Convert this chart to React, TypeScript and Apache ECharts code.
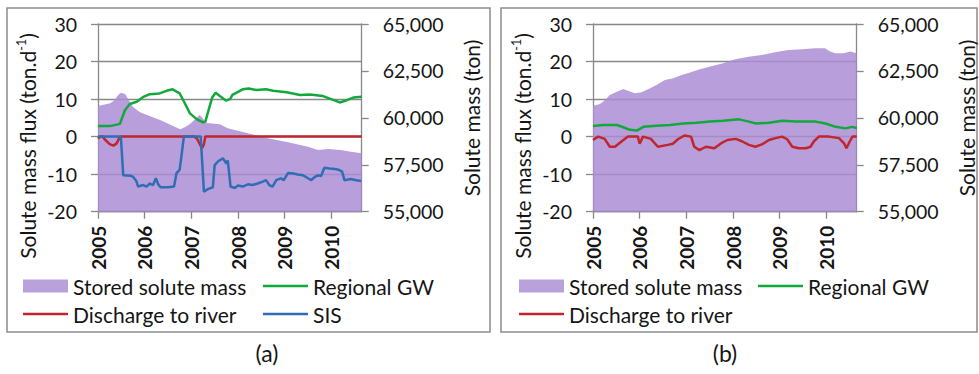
import React, { useEffect, useRef } from "react";
import * as echarts from "echarts";

// ---------- data ----------
const xTickYears = [2005, 2006, 2007, 2008, 2009, 2010];
const xStart = 2005;
const xEnd = 2010.65;
const fluxRange = [-20, 30, 10]; // min, max, interval (ton/d)
const massRange = [55000, 65000, 2500]; // min, max, interval (ton)

const seriesNames = ["Stored solute mass", "Regional GW", "Discharge to river", "SIS"];

// Panel (a)
const aStored: [number, number][] = [
  [2005.0, 60630], [2005.26, 60780], [2005.36, 60950], [2005.43, 61220], [2005.49, 61340],
  [2005.58, 61270], [2005.62, 61110], [2005.75, 60580], [2005.9, 60300], [2006.05, 60150],
  [2006.33, 59890], [2006.61, 59570], [2006.76, 59390], [2006.86, 59500], [2006.97, 59670],
  [2007.18, 60150], [2007.27, 59900], [2007.33, 59730], [2007.61, 59660], [2007.78, 59440],
  [2008.21, 59180], [2008.64, 58910], [2009.07, 58700], [2009.5, 58460], [2009.71, 58290],
  [2009.93, 58340], [2010.2, 58290], [2010.42, 58200], [2010.65, 58110],
];
const aRegional: [number, number][] = [
  [2005.0, 2.8], [2005.26, 2.8], [2005.47, 3.4], [2005.58, 7.1], [2005.68, 8.7],
  [2005.83, 9.3], [2005.96, 10.5], [2006.11, 11.3], [2006.32, 11.5], [2006.47, 12.2],
  [2006.6, 12.6], [2006.75, 11.5], [2006.86, 8.9], [2006.97, 6.2], [2007.12, 4.6],
  [2007.25, 3.8], [2007.3, 4.0], [2007.38, 7.5], [2007.45, 10.5], [2007.52, 11.7],
  [2007.61, 10.8], [2007.74, 9.6], [2007.83, 10.0], [2007.88, 11.1], [2008.1, 12.6],
  [2008.23, 12.8], [2008.4, 12.4], [2008.6, 12.6], [2008.75, 12.2], [2009.04, 11.8],
  [2009.33, 11.1], [2009.54, 11.2], [2009.82, 10.8], [2010.04, 9.8], [2010.18, 9.1],
  [2010.33, 9.7], [2010.47, 10.4], [2010.65, 10.6],
];
const aDischarge: [number, number][] = [
  [2005.0, -0.5], [2005.05, 0], [2005.1, 0], [2005.15, -0.8], [2005.25, -2.0],
  [2005.33, -2.4], [2005.4, -1.8], [2005.47, 0], [2007.06, 0], [2007.12, -0.5],
  [2007.2, -2.5], [2007.23, -3.0], [2007.27, -2.0], [2007.3, 0], [2010.65, 0],
];
const aSIS: [number, number][] = [
  [2005.0, 0], [2005.49, 0], [2005.54, -10.3], [2005.7, -10.4], [2005.75, -10.7],
  [2005.82, -11.8], [2005.86, -13.3], [2005.97, -12.9], [2006.04, -13.3], [2006.11, -12.5],
  [2006.18, -12.9], [2006.24, -11.1], [2006.29, -12.7], [2006.34, -13.5], [2006.5, -13.5],
  [2006.63, -13.3], [2006.68, -9.8], [2006.75, -8.8], [2006.8, -4.0], [2006.84, 0],
  [2007.2, 0], [2007.27, -14.7], [2007.35, -14.0], [2007.46, -13.5], [2007.5, -7.6],
  [2007.58, -6.5], [2007.68, -5.8], [2007.75, -7.2], [2007.78, -6.3], [2007.84, -13.3],
  [2007.93, -13.7], [2008.0, -13.0], [2008.1, -13.3], [2008.21, -12.7], [2008.31, -12.9],
  [2008.42, -12.5], [2008.53, -12.0], [2008.6, -11.6], [2008.67, -12.9], [2008.74, -13.3],
  [2008.82, -11.6], [2008.92, -11.1], [2008.98, -11.6], [2009.07, -9.7], [2009.18, -9.8],
  [2009.28, -10.1], [2009.39, -10.3], [2009.5, -11.1], [2009.57, -11.6], [2009.65, -10.7],
  [2009.71, -10.3], [2009.78, -10.5], [2009.85, -8.3], [2009.96, -8.5], [2010.07, -8.6],
  [2010.17, -8.9], [2010.23, -9.3], [2010.28, -11.6], [2010.42, -11.3], [2010.53, -11.6],
  [2010.64, -11.8],
];

// Panel (b)
const bStored: [number, number][] = [
  [2005.0, 60630], [2005.15, 60740], [2005.26, 60950], [2005.36, 61220], [2005.51, 61390],
  [2005.65, 61540], [2005.76, 61430], [2005.9, 61310], [2006.04, 61360], [2006.18, 61520],
  [2006.36, 61750], [2006.54, 62020], [2006.72, 62110], [2006.9, 62280], [2007.08, 62410],
  [2007.29, 62590], [2007.51, 62730], [2007.79, 62910], [2008.05, 63120], [2008.33, 63260],
  [2008.62, 63350], [2008.9, 63490], [2009.19, 63620], [2009.48, 63650], [2009.76, 63710],
  [2009.97, 63710], [2010.08, 63530], [2010.19, 63440], [2010.37, 63440], [2010.51, 63530],
  [2010.65, 63440],
];
const bRegional: [number, number][] = [
  [2005.0, 2.8], [2005.22, 3.1], [2005.51, 3.1], [2005.65, 2.5], [2005.79, 1.8],
  [2005.94, 1.6], [2006.08, 2.6], [2006.36, 2.9], [2006.65, 3.1], [2006.93, 3.5],
  [2007.22, 3.7], [2007.51, 4.0], [2007.79, 4.2], [2008.13, 4.6], [2008.34, 4.0],
  [2008.49, 3.5], [2008.77, 3.7], [2009.06, 4.2], [2009.34, 4.0], [2009.77, 4.0],
  [2009.98, 3.5], [2010.2, 2.6], [2010.41, 2.2], [2010.55, 2.6], [2010.65, 2.3],
];
const bDischarge: [number, number][] = [
  [2005.0, -0.9], [2005.11, 0], [2005.25, -0.6], [2005.36, -2.7], [2005.47, -2.7],
  [2005.61, -1.3], [2005.75, 0], [2005.96, 0], [2006.0, -1.9], [2006.07, 0],
  [2006.24, -0.6], [2006.39, -2.7], [2006.6, -2.2], [2006.71, -1.9], [2006.82, -0.7],
  [2006.96, 0.3], [2007.1, 0], [2007.17, -2.7], [2007.28, -3.6], [2007.42, -2.7],
  [2007.6, -3.1], [2007.74, -1.8], [2007.88, -0.9], [2008.06, -0.6], [2008.2, -1.3],
  [2008.34, -2.2], [2008.48, -2.7], [2008.63, -2.0], [2008.77, -0.9], [2008.91, -0.4],
  [2009.05, 0], [2009.16, -0.7], [2009.27, -2.7], [2009.41, -3.1], [2009.56, -3.1],
  [2009.66, -2.7], [2009.73, -1.3], [2009.84, 0], [2010.06, 0], [2010.27, -0.4],
  [2010.38, -1.8], [2010.43, -3.1], [2010.5, -1.3], [2010.56, 0], [2010.65, 0],
];

// ---------- styles ----------
const FONT = 'Lato, "Open Sans", "DejaVu Sans", sans-serif';
const GRAY = "#888888";
const TEXT = "#151515";
const PURPLE_AREA = "rgba(170,140,212,0.84)";
const PURPLE_SOLID = "#b9a1dc";
const GREEN = "#13a83b";
const RED = "#c0262c";
const BLUE = "#2f6db5";

const PLOT_W = 263.7;
const PLOT_H = 187.7;
const PLOT_TOP = 24;
const PANELS = [
  { left: 98, label: "(a)", labelX: 267, border: [7, 8, 483, 324] },
  { left: 593, label: "(b)", labelX: 725, border: [501, 8, 476, 324] },
];

function xAxisCfg(gridIndex: number) {
  return {
    type: "value",
    gridIndex,
    min: xStart,
    max: xEnd,
    interval: 1,
    axisLine: { show: true, onZero: false, lineStyle: { color: GRAY, width: 1.3 } },
    axisTick: { show: true, length: 7, lineStyle: { color: GRAY, width: 1.3 }, customValues: xTickYears },
    axisLabel: {
      rotate: 90,
      margin: 14,
      fontSize: 19,
      fontWeight: "bold",
      color: TEXT,
      fontFamily: FONT,
      customValues: xTickYears,
      formatter: (v: number) => String(Math.round(v)),
    },
    splitLine: { show: false },
  };
}

function fluxAxisCfg(gridIndex: number) {
  return {
    type: "value",
    gridIndex,
    position: "left",
    min: fluxRange[0],
    max: fluxRange[1],
    interval: fluxRange[2],
    axisLine: { show: true, onZero: false, lineStyle: { color: GRAY, width: 1.3 } },
    axisTick: { show: true, length: 7, lineStyle: { color: GRAY, width: 1.3 } },
    axisLabel: { margin: 21, fontSize: 19.5, color: TEXT, fontFamily: FONT },
    splitLine: { show: true, lineStyle: { color: GRAY, width: 1.3 } },
  };
}

function massAxisCfg(gridIndex: number) {
  return {
    type: "value",
    gridIndex,
    position: "right",
    min: massRange[0],
    max: massRange[1],
    interval: massRange[2],
    axisLine: { show: true, onZero: false, lineStyle: { color: GRAY, width: 1.3 } },
    axisTick: { show: true, length: 7, lineStyle: { color: GRAY, width: 1.3 } },
    axisLabel: {
      margin: 21,
      fontSize: 19.5,
      color: TEXT,
      fontFamily: FONT,
      formatter: (v: number) => v.toLocaleString("en-US"),
    },
    splitLine: { show: false },
  };
}

function areaSeries(idx: number, data: [number, number][]) {
  return {
    name: seriesNames[0],
    type: "line",
    xAxisIndex: idx,
    yAxisIndex: idx * 2 + 1,
    data,
    symbol: "none",
    lineStyle: { width: 0, color: PURPLE_SOLID },
    itemStyle: { color: PURPLE_SOLID },
    areaStyle: { color: PURPLE_AREA, origin: "start", opacity: 1 },
    z: 1,
  };
}

function lineSeries(idx: number, name: string, color: string, data: [number, number][]) {
  return {
    name,
    type: "line",
    xAxisIndex: idx,
    yAxisIndex: idx * 2,
    data,
    symbol: "none",
    showSymbol: false,
    lineStyle: { width: 2.5, color },
    itemStyle: { color },
    z: 3,
  };
}

function legendCfg(name: string, left: number, top: number, isRect: boolean, color: string) {
  return {
    left,
    top,
    padding: 0,
    itemWidth: 45,
    itemHeight: isRect ? 13 : 2.5,
    selectedMode: false,
    textStyle: { fontSize: 21, fontFamily: FONT, color: TEXT, lineHeight: 22 },
    data: [{ name, icon: "rect", itemStyle: { color } }],
  };
}

function axisTitle(text: string, x: number, y: number, sup?: string) {
  const rich = {
    n: { fontSize: 21, fontFamily: FONT, fill: TEXT, lineHeight: 24 },
    s: { fontSize: 12.5, fontFamily: FONT, fill: TEXT, lineHeight: 14, verticalAlign: "top" },
  };
  return {
    type: "text",
    x,
    y,
    rotation: Math.PI / 2,
    silent: true,
    style: {
      text: sup ? `{n|${text}}{s|${sup}}{n|)}` : `{n|${text}}`,
      rich,
      align: "center",
      verticalAlign: "middle",
      fill: TEXT,
    },
  };
}

export default function App() {
  const ref = useRef<HTMLDivElement>(null);

  useEffect(() => {
    if (!ref.current) return;
    const chart = echarts.init(ref.current, undefined, { renderer: "svg" });

    const graphics: any[] = [];
    PANELS.forEach((p) => {
      const [bx, by, bw, bh] = p.border;
      graphics.push({
        type: "rect",
        silent: true,
        shape: { x: bx, y: by, width: bw, height: bh },
        style: { fill: "none", stroke: "#8c8c8c", lineWidth: 1.5 },
        z: -1,
      });
      graphics.push(axisTitle("Solute mass flux (ton.d", p.left - 71, 146, "-1"));
      graphics.push(axisTitle("Solute mass (ton)", p.left + PLOT_W + 110, 118));
      graphics.push({
        type: "text",
        x: p.labelX,
        y: 353,
        silent: true,
        style: { text: p.label, fontSize: 23, fontFamily: FONT, fill: TEXT, align: "center", verticalAlign: "middle" },
      });
    });

    const option: any = {
      animation: false,
      backgroundColor: "#ffffff",
      grid: PANELS.map((p) => ({ left: p.left, top: PLOT_TOP, width: PLOT_W, height: PLOT_H, containLabel: false })),
      xAxis: [xAxisCfg(0), xAxisCfg(1)],
      yAxis: [fluxAxisCfg(0), massAxisCfg(0), fluxAxisCfg(1), massAxisCfg(1)],
      legend: [
        legendCfg(seriesNames[0], 23, 275, true, PURPLE_SOLID),
        legendCfg(seriesNames[1], 263, 275, false, GREEN),
        legendCfg(seriesNames[2], 23, 303, false, RED),
        legendCfg(seriesNames[3], 263, 303, false, BLUE),
        legendCfg(seriesNames[0], 519, 275, true, PURPLE_SOLID),
        legendCfg(seriesNames[1], 758, 275, false, GREEN),
        legendCfg(seriesNames[2], 519, 303, false, RED),
      ],
      series: [
        areaSeries(0, aStored),
        lineSeries(0, seriesNames[1], GREEN, aRegional),
        lineSeries(0, seriesNames[2], RED, aDischarge),
        lineSeries(0, seriesNames[3], BLUE, aSIS),
        areaSeries(1, bStored),
        lineSeries(1, seriesNames[1], GREEN, bRegional),
        lineSeries(1, seriesNames[2], RED, bDischarge),
      ],
      graphic: graphics,
    };
    chart.setOption(option);
    return () => chart.dispose();
  }, []);

  return (
    <div
      ref={ref}
      style={{ position: "absolute", left: 0, top: 0, width: 979, height: 374, background: "#fff" }}
    />
  );
}
